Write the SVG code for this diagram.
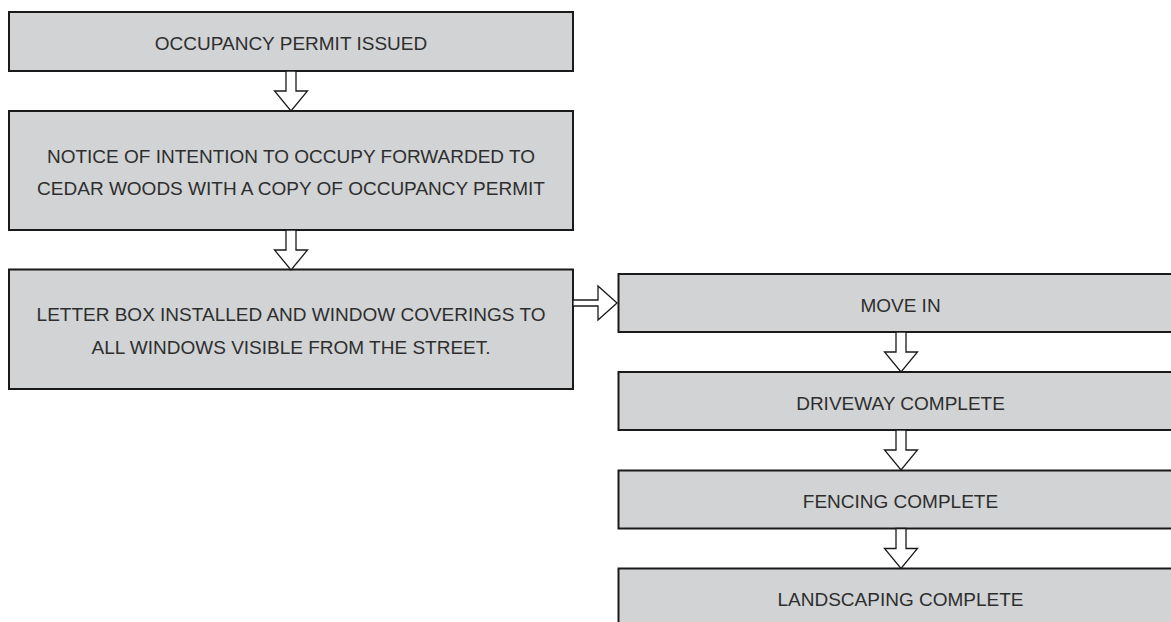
<svg xmlns="http://www.w3.org/2000/svg" xmlns:xlink="http://www.w3.org/1999/xlink" width="1171" height="622" viewBox="0 0 1171 622">
  <style>
    .box { fill: #d1d3d5; stroke: #1a1a1a; stroke-width: 2; }
    .lbl { font-family: "Liberation Sans", Arial, sans-serif; font-size: 19px; fill: #2e2e2e; text-anchor: middle; }
    .arrow { fill: #ffffff; stroke: #1a1a1a; stroke-width: 1.3; stroke-linejoin: miter; }
  </style>
  <defs>
    <path id="arrowDown" d="M-5,0 L5,0 L5,20 L16.5,20 L0,40 L-16.5,20 L-5,20 Z"/>
    <path id="arrowRight" d="M0,-3 L25,-3 L25,-17 L44,0 L25,17 L25,3 L0,3 Z"/>
  </defs>
  <rect width="1171" height="622" fill="#ffffff"/>

  <g id="n1">
    <rect class="box" x="9" y="12" width="564" height="59"/>
    <text class="lbl" x="291" y="50">OCCUPANCY PERMIT ISSUED</text>
  </g>
  <g id="n2">
    <rect class="box" x="9" y="111" width="564" height="119"/>
    <text class="lbl" x="291" y="162.5">NOTICE OF INTENTION TO OCCUPY FORWARDED TO</text>
    <text class="lbl" x="291" y="195">CEDAR WOODS WITH A COPY OF OCCUPANCY PERMIT</text>
  </g>
  <g id="n3">
    <rect class="box" x="9" y="269.5" width="564" height="119.5"/>
    <text class="lbl" x="291" y="321">LETTER BOX INSTALLED AND WINDOW COVERINGS TO</text>
    <text class="lbl" x="291" y="353.5">ALL WINDOWS VISIBLE FROM THE STREET.</text>
  </g>
  <g id="n4">
    <rect class="box" x="618.5" y="274" width="564" height="58"/>
    <text class="lbl" x="900.5" y="311.5">MOVE IN</text>
  </g>
  <g id="n5">
    <rect class="box" x="618.5" y="372" width="564" height="58"/>
    <text class="lbl" x="900.5" y="409.5">DRIVEWAY COMPLETE</text>
  </g>
  <g id="n6">
    <rect class="box" x="618.5" y="470.5" width="564" height="58"/>
    <text class="lbl" x="900.5" y="507.5">FENCING COMPLETE</text>
  </g>
  <g id="n7">
    <rect class="box" x="618.5" y="568.5" width="564" height="58"/>
    <text class="lbl" x="900.5" y="606">LANDSCAPING COMPLETE</text>
  </g>

  <g id="connectors">
    <use xlink:href="#arrowDown" class="arrow" x="291" y="71"/>
    <use xlink:href="#arrowDown" class="arrow" x="291" y="230"/>
    <use xlink:href="#arrowRight" class="arrow" x="573" y="303"/>
    <use xlink:href="#arrowDown" class="arrow" x="901" y="332"/>
    <use xlink:href="#arrowDown" class="arrow" x="901" y="430"/>
    <use xlink:href="#arrowDown" class="arrow" x="901" y="528.5"/>
  </g>
</svg>
